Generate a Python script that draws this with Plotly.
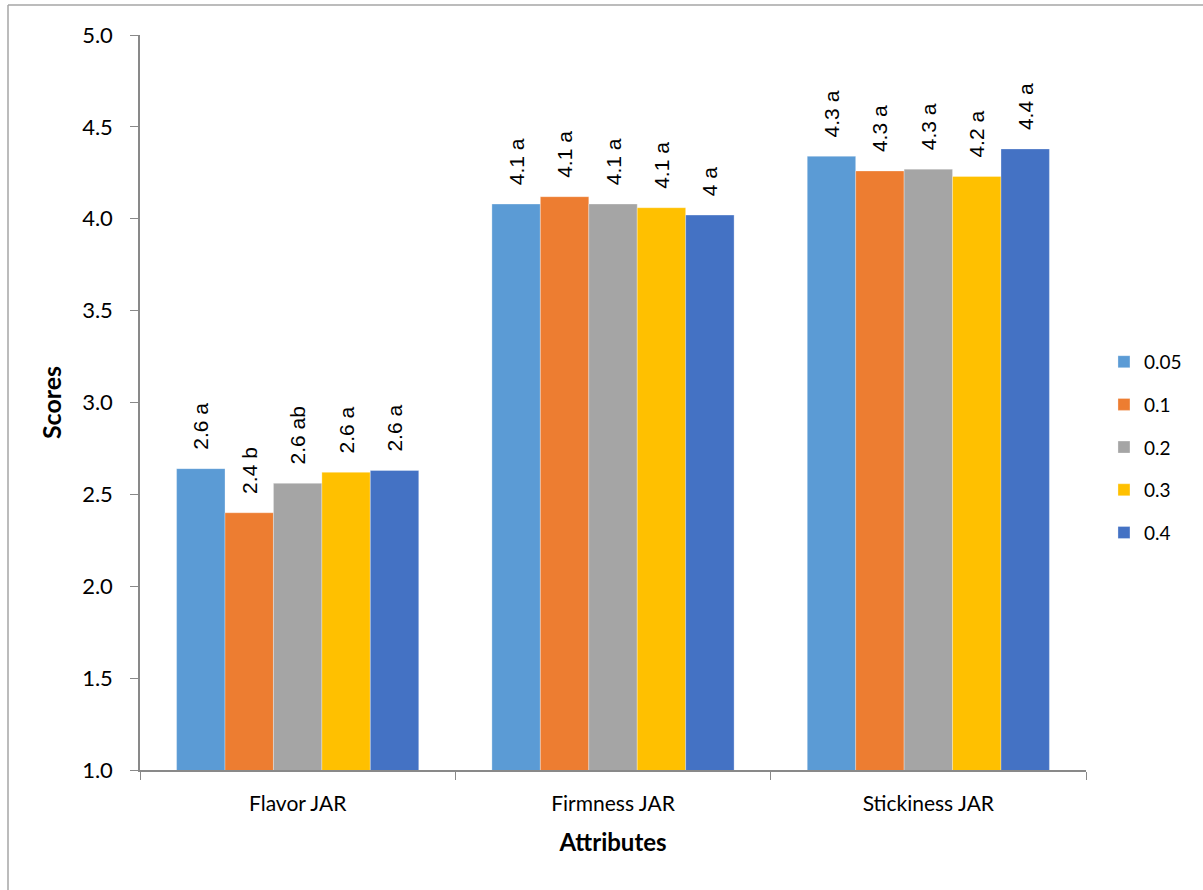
import plotly.graph_objects as go

# Sensory attribute scores by concentration level
attributes = ["Flavor JAR", "Firmness JAR", "Stickiness JAR"]
levels = ["0.05", "0.1", "0.2", "0.3", "0.4"]
colors = ["#5B9BD5", "#ED7D31", "#A5A5A5", "#FFC000", "#4472C4"]

scores = {
    "0.05": [2.64, 4.08, 4.34],
    "0.1": [2.40, 4.12, 4.26],
    "0.2": [2.56, 4.08, 4.27],
    "0.3": [2.62, 4.06, 4.23],
    "0.4": [2.63, 4.02, 4.38],
}
letters = {
    "0.05": ["a", "a", "a"],
    "0.1": ["b", "a", "a"],
    "0.2": ["ab", "a", "a"],
    "0.3": ["a", "a", "a"],
    "0.4": ["a", "a", "a"],
}

axis_font = "Lato, 'Liberation Sans', sans-serif"
label_font = "'Liberation Sans', Arial, sans-serif"
grey = "#898989"

fig = go.Figure()
for lvl, col in zip(levels, colors):
    vals = scores[lvl]
    # leading spaces lift the rotated label a little off the bar top
    texts = ["\u00a0\u00a0\u2009" + f"{round(v, 1):g} {s}" for v, s in zip(vals, letters[lvl])]
    fig.add_trace(go.Bar(
        x=attributes, y=vals, name=lvl,
        marker=dict(color=col, line=dict(color="rgba(255,255,255,0.6)", width=0.5)),
        text=texts, textposition="outside", textangle=-90,
        textfont=dict(family=label_font, size=21, color="#000000"),
        constraintext="none", cliponaxis=False,
        legendgroup=lvl,
    ))

# outer chart-area border
x0 = (8 - 140) / 946
x1 = (1203 - 140) / 946
y_top = (770 - 5) / 735
y_bot = (770 - 890) / 735
fig.add_shape(type="line", xref="paper", yref="paper", x0=x0, x1=x0, y0=y_bot, y1=y_top,
              line=dict(color="#A6A6A6", width=1.5))
fig.add_shape(type="line", xref="paper", yref="paper", x0=x0, x1=x1, y0=y_top, y1=y_top,
              line=dict(color="#A6A6A6", width=1.5))

fig.update_layout(
    width=1203, height=890,
    margin=dict(l=140, r=117, t=35, b=120),
    plot_bgcolor="white", paper_bgcolor="white",
    barmode="group", bargap=0.232, bargroupgap=0,
    font=dict(family=axis_font, color="#000000"),
    showlegend=True,
    legend=dict(
        x=1.019, y=0.439, xanchor="left", yanchor="middle",
        font=dict(family=axis_font, size=19),
        traceorder="grouped", tracegroupgap=15,
        itemwidth=30,
    ),
    xaxis=dict(
        title=dict(text="<b>Attributes</b>", font=dict(size=24), standoff=20),
        tickfont=dict(size=21), ticklabelstandoff=14,
        showline=True, linecolor=grey, linewidth=1.5,
        ticks="outside", tickson="boundaries", ticklen=8, tickcolor=grey,
        showgrid=False,
    ),
    yaxis=dict(
        title=dict(text="<b>Scores</b>", font=dict(size=25), standoff=13),
        tickfont=dict(size=22), ticklabelstandoff=13,
        range=[1.0, 5.0], dtick=0.5, tickformat=".1f",
        showline=True, linecolor=grey, linewidth=1.5,
        ticks="outside", ticklen=8, tickcolor=grey,
        showgrid=False, zeroline=False,
    ),
)

fig.write_html("out.html")
